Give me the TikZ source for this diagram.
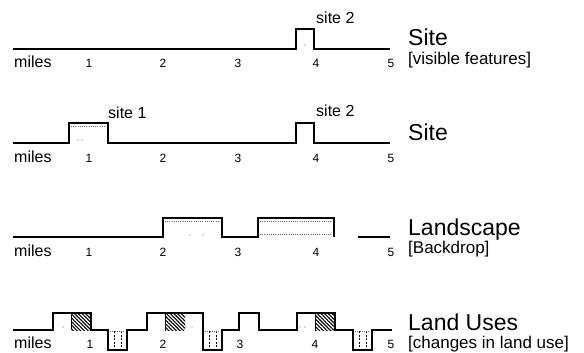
\documentclass[tikz,border=0pt]{standalone}
\usepackage{fontspec}
\setmainfont{Liberation Sans}
\usetikzlibrary{patterns.meta}
\begin{document}
\begin{tikzpicture}[x=1pt,y=-1pt,
  prof/.style={line width=1.7pt, line join=miter},
  faint/.style={black!60, line width=0.6pt, dash pattern=on 1pt off 1.2pt},
  num/.style={font=\fontsize{12}{13}\selectfont, anchor=base, inner sep=0},
  milestxt/.style={font=\fontsize{16}{17}\selectfont, anchor=base west, inner sep=0},
  big/.style={font=\fontsize{23}{24}\selectfont, anchor=base west, inner sep=0},
  sub/.style={font=\fontsize{17}{18}\selectfont, anchor=base west, inner sep=0},
  sitelbl/.style={font=\fontsize{16}{17}\selectfont, anchor=base west, inner sep=0},
  hatch/.style={pattern={Lines[angle=-45, distance=2.6pt, line width=1.1pt]}},
  pitline/.style={line width=0.8pt, dash pattern=on 2pt off 1.5pt}]
\useasboundingbox (0,0) rectangle (584,353);

% ---------- axis labels ----------
\foreach \r/\by in {1/49, 2/143, 3/237} {
  \node[milestxt] (miles\r) at (14,\by+19) {miles};
  \foreach \i/\x in {1/89, 2/163, 3/238, 4/316, 5/391}
    \node[num] (n\r-\i) at (\x,\by+19) {\i};
}
\node[milestxt] (miles4) at (14,348) {miles};
\foreach \i/\x in {1/90, 2/163, 3/240, 4/315, 5/391}
  \node[num] (n4-\i) at (\x,348) {\i};

% ---------- row 1 ----------
\draw[prof] (13,49) -- (296,49) -- (296,29) -- (314,29) -- (314,49) -- (390,49);
\fill[black!60] (305,45) circle (0.6);
\node[sitelbl] (s1site2) at (316,24) {site 2};
\node[big] (lab1) at (408,46) {Site};
\node[sub] (sub1) at (408,65) {[visible features]};

% ---------- row 2 ----------
\draw[prof] (13,143) -- (69,143) -- (69,123) -- (108,123) -- (108,143)
  -- (296,143) -- (296,123) -- (314,123) -- (314,143) -- (390,143);
\draw[faint] (71,126) -- (106,126);
\fill[black!60] (78,140) circle (0.6) (82,140) circle (0.6);
\node[sitelbl] (s2site1) at (108,118) {site 1};
\node[sitelbl] (s2site2) at (316,117) {site 2};
\node[big] (lab2) at (408,140) {Site};

% ---------- row 3 ----------
\draw[prof] (13,237) -- (163,237) -- (163,218) -- (222,218) -- (222,237)
  -- (258,237) -- (258,218) -- (334,218) -- (334,237);
\draw[prof] (358,237) -- (390,237);
\draw[faint] (165,221) -- (220,221);
\draw[faint] (260,221) -- (332,221);
\draw[faint] (260,234) -- (332,234);
\fill[black!60] (190,235) circle (0.6) (203,235) circle (0.6);
\node[big] (lab3) at (408,235) {Landscape};
\node[sub] (sub3) at (408,253) {[Backdrop]};

% ---------- row 4 ----------
\fill[hatch] (71,313) rectangle (91,330);
\fill[hatch] (165,313) rectangle (185,330);
\fill[hatch] (315,313) rectangle (335,330);
\draw[line width=1pt] (71,313) -- (71,330);
\draw[line width=1pt] (165,313) -- (165,330);
\draw[line width=1pt] (315,313) -- (315,330);
\foreach \px in {108, 203, 353} {
  \draw[pitline] (\px+6,331) -- (\px+6,349);
  \draw[pitline] (\px+13,331) -- (\px+13,349);
  \draw[faint] (\px,331) -- (\px+19,331);
}
\draw[prof] (13,330) -- (53,330) -- (53,313) -- (91,313) -- (91,330)
  -- (108,330) -- (108,350) -- (127,350) -- (127,330) -- (147,330)
  -- (147,313) -- (203,313) -- (203,350) -- (222,350) -- (222,330)
  -- (239,330) -- (239,313) -- (259,313) -- (259,330) -- (297,330)
  -- (297,313) -- (335,313) -- (335,330) -- (353,330) -- (353,350)
  -- (372,350) -- (372,330) -- (392,330);
\fill[black!60] (63,327) circle (0.6) (186,327) circle (0.6) (192,327) circle (0.6)
  (300,327) circle (0.6) (305,327) circle (0.6);
\node[big] (lab4) at (408,330) {Land Uses};
\node[sub] (sub4) at (408,348) {[changes in land use]};
\end{tikzpicture}
\end{document}
